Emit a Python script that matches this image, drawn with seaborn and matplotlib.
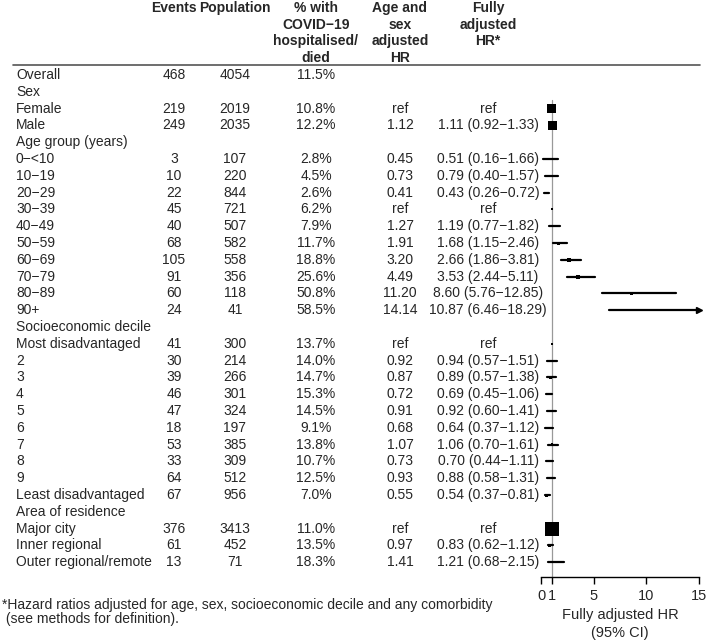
import numpy as np
import matplotlib
matplotlib.use("Agg")
import matplotlib.pyplot as plt
import matplotlib.transforms as mtransforms
import seaborn as sns

# === DATOS ===
labels = ["Overall", "Sex", "Female", "Male", "Age group (years)",
          "0−<10", "10−19", "20−29", "30−39", "40−49", "50−59", "60−69",
          "70−79", "80−89", "90+", "Socioeconomic decile", "Most disadvantaged",
          "2", "3", "4", "5", "6", "7", "8", "9", "Least disadvantaged",
          "Area of residence", "Major city", "Inner regional", "Outer regional/remote"]
events = [468, None, 219, 249, None, 3, 10, 22, 45, 40, 68, 105, 91, 60, 24,
          None, 41, 30, 39, 46, 47, 18, 53, 33, 64, 67, None, 376, 61, 13]
population = [4054, None, 2019, 2035, None, 107, 220, 844, 721, 507, 582, 558, 356, 118, 41,
              None, 300, 214, 266, 301, 324, 197, 385, 309, 512, 956, None, 3413, 452, 71]
pct = ["11.5%", "", "10.8%", "12.2%", "", "2.8%", "4.5%", "2.6%", "6.2%", "7.9%", "11.7%",
       "18.8%", "25.6%", "50.8%", "58.5%", "", "13.7%", "14.0%", "14.7%", "15.3%", "14.5%",
       "9.1%", "13.8%", "10.7%", "12.5%", "7.0%", "", "11.0%", "13.5%", "18.3%"]
age_sex_hr = ["", "", "ref", "1.12", "", "0.45", "0.73", "0.41", "ref", "1.27", "1.91", "3.20",
              "4.49", "11.20", "14.14", "", "ref", "0.92", "0.87", "0.72", "0.91", "0.68", "1.07",
              "0.73", "0.93", "0.55", "", "ref", "0.97", "1.41"]
# HR ajustado (ref -> 1 sin IC, None -> fila de encabezado)
hr = [None, None, 1, 1.11, None, 0.51, 0.79, 0.43, 1, 1.19, 1.68, 2.66, 3.53, 8.60, 10.87,
      None, 1, 0.94, 0.89, 0.69, 0.92, 0.64, 1.06, 0.70, 0.88, 0.54, None, 1, 0.83, 1.21]
hr_lo = [None, None, None, 0.92, None, 0.16, 0.40, 0.26, None, 0.77, 1.15, 1.86, 2.44, 5.76, 6.46,
         None, None, 0.57, 0.57, 0.45, 0.60, 0.37, 0.70, 0.44, 0.58, 0.37, None, None, 0.62, 0.68]
hr_hi = [None, None, None, 1.33, None, 1.66, 1.57, 0.72, None, 1.82, 2.46, 3.81, 5.11, 12.85, 18.29,
         None, None, 1.51, 1.38, 1.06, 1.41, 1.12, 1.61, 1.11, 1.31, 0.81, None, None, 1.12, 2.15]
# peso relativo de cada caja
box_weight = [0, 0, 8.5, 9.5, 0, 1.5, 2, 2, 2, 2.5, 3, 4.5, 4, 2.5, 1.5,
              0, 2, 2, 2.5, 2.5, 2, 2, 2.5, 2, 2.5, 3, 0, 14, 2.5, 1.5]
x_ticks = [0, 1, 5, 10, 15]

# === CONFIGURACION ===
sns.set_theme(style="white")
plt.rcParams["font.family"] = ["Liberation Sans", "DejaVu Sans"]
W, H = 709, 642
fig = plt.figure(figsize=(W / 100, H / 100), dpi=100)
ax = fig.add_axes([541 / W, 1 - 577 / H, 158 / W, 577 / H])
ax.set_facecolor("none")

n = len(labels)
rows = np.arange(n)
step = 16.8
ax.set_xlim(0, 15)
ax.set_ylim((577 - 75) / step, -75 / step)

tr = mtransforms.blended_transform_factory(fig.transFigure, ax.transData)
fs = 10

# === TABLA ===
for i in range(n):
    ax.text(16 / W, i, labels[i], transform=tr, ha="left", va="center", fontsize=fs)
    if events[i] is not None:
        ax.text(174 / W, i, str(events[i]), transform=tr, ha="center", va="center", fontsize=fs)
        ax.text(235 / W, i, str(population[i]), transform=tr, ha="center", va="center", fontsize=fs)
    ax.text(316 / W, i, pct[i], transform=tr, ha="center", va="center", fontsize=fs)
    ax.text(400 / W, i, age_sex_hr[i], transform=tr, ha="center", va="center", fontsize=fs)
    if hr[i] is not None:
        if hr_lo[i] is None:
            s = "ref"
        else:
            s = f"{hr[i]:.2f} ({hr_lo[i]:.2f}−{hr_hi[i]:.2f})"
        ax.text(488 / W, i, s, transform=tr, ha="center", va="center", fontsize=fs)

# encabezados
headers = [(174, ["Events"]), (235, ["Population"]),
           (316, ["% with", "COVID−19", "hospitalised/", "died"]),
           (400, ["Age and", "sex", "adjusted", "HR"]),
           (488, ["Fully", "adjusted", "HR*"])]
for xpx, lines in headers:
    for k, line in enumerate(lines):
        ax.text(xpx / W, -4 + k, line, transform=tr, ha="center", va="center",
                fontsize=fs, fontweight="bold")
ax.plot([13 / W, 700 / W], [-0.6, -0.6], transform=tr, color="#555555", lw=1.2, clip_on=False)

# === FOREST PLOT ===
ax.plot([1, 1], [1.5, (577 - 75) / step], color="#999999", lw=0.9, zorder=1, clip_on=False)
for i in range(n):
    if hr[i] is None:
        continue
    if hr_lo[i] is not None:
        hi = min(hr_hi[i], 15)
        ax.plot([hr_lo[i], hi], [i, i], color="black", lw=1.6, zorder=2, clip_on=False)
        if hr_hi[i] > 15:
            ax.plot([15], [i], marker=">", color="black", markersize=5, clip_on=False, zorder=3)
sizes = [(w * 0.72) ** 2 for w in box_weight]
mask = [h is not None for h in hr]
sns.scatterplot(x=[h for h, m in zip(hr, mask) if m], y=rows[mask],
                s=[s for s, m in zip(sizes, mask) if m], marker="s", color="black",
                linewidth=0, ax=ax, zorder=4, clip_on=False, legend=False)

ax.set_xticks(x_ticks)
ax.set_xticklabels([str(t) for t in x_ticks], fontsize=10.5)
ax.set_yticks([])
ax.tick_params(axis="x", direction="out", length=5, width=1, color="black", pad=4, bottom=True)
for side in ["top", "left", "right"]:
    ax.spines[side].set_visible(False)
ax.spines["bottom"].set_color("black")
ax.spines["bottom"].set_linewidth(1)
ax.set_xlabel("Fully adjusted HR\n(95% CI)", fontsize=10.5, linespacing=1.35, labelpad=3)
ax.set_ylabel("")

fig.text(2 / W, 1 - 612 / H,
         "*Hazard ratios adjusted for age, sex, socioeconomic decile and any comorbidity\n (see methods for definition).",
         ha="left", va="center", fontsize=10, linespacing=0.95)

fig.savefig("out.png", dpi=100)
